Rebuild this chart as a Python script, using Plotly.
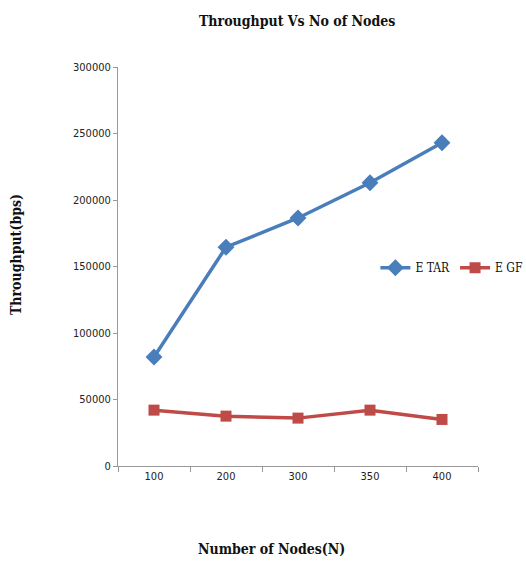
import plotly.graph_objects as go

nodes = ["100", "200", "300", "350", "400"]
etar = [82000, 164500, 186500, 213000, 243000]
egf = [42000, 37500, 36000, 42000, 35000]
y_ticks = [0, 50000, 100000, 150000, 200000, 250000, 300000]

serif = "DejaVu Serif Condensed, Liberation Serif, serif"
narrow = "Liberation Sans Narrow, DejaVu Sans Condensed, Liberation Sans, sans-serif"

fig = go.Figure()
fig.add_trace(go.Scatter(
    x=nodes, y=etar, name="E TAR", mode="lines+markers",
    line=dict(color="#4a7ebb", width=3.5),
    marker=dict(symbol="diamond", size=13, color="#4a7ebb"),
))
fig.add_trace(go.Scatter(
    x=nodes, y=egf, name="E GF", mode="lines+markers",
    line=dict(color="#be4b48", width=3.5),
    marker=dict(symbol="square", size=11, color="#be4b48"),
))

fig.update_layout(
    width=526, height=565,
    margin=dict(l=118, r=48, t=67, b=99, autoexpand=False),
    paper_bgcolor="white", plot_bgcolor="white",
    title=dict(text="<b>Throughput Vs No of Nodes</b>", x=0.565, xanchor="center",
               y=0.962, yanchor="middle",
               font=dict(family=serif, size=14, color="#111")),
    showlegend=True,
    legend=dict(orientation="h", x=0.715, xanchor="left", y=0.497, yanchor="middle",
                font=dict(family=serif, size=12, color="#111"),
                bgcolor="rgba(0,0,0,0)", itemwidth=30, tracegroupgap=0),
    font=dict(family=narrow, size=11, color="#222"),
    annotations=[
        dict(text="<b>Number of Nodes(N)</b>", xref="paper", yref="paper",
             x=0.425, y=-0.208, xanchor="center", yanchor="middle", showarrow=False,
             font=dict(family=serif, size=14, color="#111")),
        dict(text="<b>Throughput(bps)</b>", xref="paper", yref="paper",
             x=-0.283, y=0.529, xanchor="center", yanchor="middle", showarrow=False,
             textangle=-90, font=dict(family=serif, size=14, color="#111")),
    ],
)

fig.update_xaxes(
    type="category", tickson="boundaries", ticks="outside", ticklen=5,
    tickcolor="#999", showline=True, linecolor="#999", linewidth=1,
    showgrid=False, range=[-0.5, 4.5], automargin=False,
    tickfont=dict(family=narrow, size=11, color="#222"),
)
fig.update_yaxes(
    range=[0, 300000], tickvals=y_ticks, ticktext=[str(v) for v in y_ticks],
    ticks="outside", ticklen=4, tickcolor="#999",
    showline=True, linecolor="#999", linewidth=1, showgrid=False, zeroline=False,
    automargin=False,
    tickfont=dict(family=narrow, size=11, color="#222"),
)

fig.write_html("out.html")
